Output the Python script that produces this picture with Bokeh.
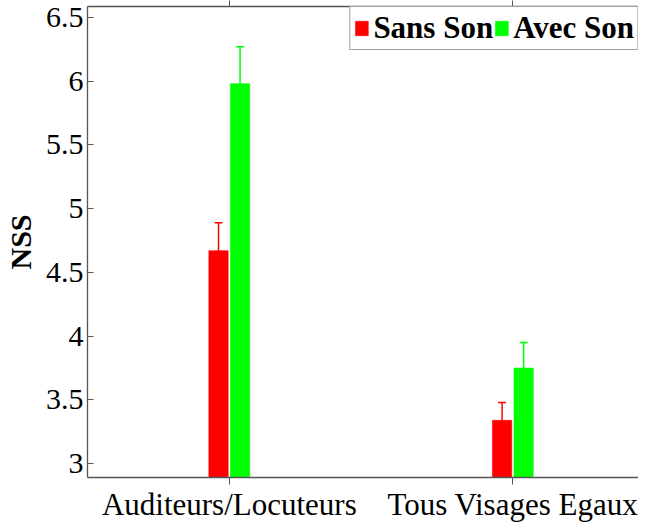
from bokeh.plotting import figure
from bokeh.models import (Range1d, FixedTicker, LinearAxis, Whisker, TeeHead,
                          ColumnDataSource, CustomJSTickFormatter)
from bokeh.embed import file_html
from bokeh.resources import INLINE

categories = ["Auditeurs/Locuteurs", "Tous Visages Egaux"]
series_names = ["Sans Son", "Avec Son"]
sans_son = [4.67, 3.34]
sans_son_err = [0.22, 0.14]
avec_son = [5.98, 3.75]
avec_son_err = [0.29, 0.20]
y_ticks = [3, 3.5, 4, 4.5, 5, 5.5, 6, 6.5]
y_tick_labels = ["3", "3.5", "4", "4.5", "5", "5.5", "6", "6.5"]

colors = ["#ff0000", "#00ff00"]
offset = 0.038
bar_w = 0.068
FONT = "Liberation Serif"
AX = "#555555"

xpos = list(range(len(categories)))

p = figure(width=638, height=524, output_backend="svg", toolbar_location=None,
           x_range=Range1d(-0.5, 1.443), y_range=Range1d(2.892, 6.585),
           min_border_left=0, min_border_right=0, min_border_top=0,
           min_border_bottom=0, background_fill_color="white",
           border_fill_color="white")
p.outline_line_color = None
p.xgrid.visible = False
p.ygrid.visible = False

for name, vals, errs, col, sgn in [(series_names[0], sans_son, sans_son_err, colors[0], -1),
                                   (series_names[1], avec_son, avec_son_err, colors[1], 1)]:
    xs = [x + sgn * offset for x in xpos]
    src = ColumnDataSource(dict(x=xs, top=vals,
                                upper=[v + e for v, e in zip(vals, errs)]))
    w = Whisker(base="x", lower="top", upper="upper", source=src,
                line_color=col, line_width=1.5, lower_head=None,
                upper_head=TeeHead(size=8, line_color=col, line_width=1.5))
    p.add_layout(w)
    p.vbar(x="x", top="top", bottom=2.0, width=bar_w, source=src,
           fill_color=col, line_color=col, line_alpha=0.6, line_width=1,
           legend_label=name)

# y axis
ya = p.yaxis[0]
ya.ticker = FixedTicker(ticks=y_ticks)
ya.formatter = CustomJSTickFormatter(args=dict(yt=y_ticks, ylab=y_tick_labels),
                                     code="const i = yt.indexOf(tick); return i >= 0 ? ylab[i] : '';")
ya.minor_tick_line_color = None
ya.major_tick_in = 6
ya.major_tick_out = 0
ya.major_label_standoff = 4
ya.major_label_text_font = FONT
ya.major_label_text_font_size = "30px"
ya.major_label_text_color = "black"
ya.axis_line_color = AX
ya.axis_line_width = 1.3
ya.major_tick_line_color = AX
ya.axis_label = "NSS"
ya.axis_label_text_font = FONT
ya.axis_label_text_font_size = "30px"
ya.axis_label_text_font_style = "bold"
ya.axis_label_text_color = "black"
ya.axis_label_standoff = 6

# x axis
xa = p.xaxis[0]
xa.ticker = FixedTicker(ticks=xpos)
xa.formatter = CustomJSTickFormatter(args=dict(cats=categories),
                                     code="const l = cats[Math.round(tick)]; return l === undefined ? '' : l;")
xa.minor_tick_line_color = None
xa.major_tick_in = 0
xa.major_tick_out = 7
xa.major_label_standoff = 2
xa.axis_label_standoff = 0
xa.major_label_text_font = FONT
xa.major_label_text_font_size = "31px"
xa.major_label_text_color = "black"
xa.axis_line_color = AX
xa.axis_line_width = 1.3
xa.major_tick_line_color = AX

top = LinearAxis(ticker=FixedTicker(ticks=xpos))
top.major_label_text_font_size = "0px"
top.major_label_text_alpha = 0
top.major_label_standoff = 0
top.major_tick_in = 0
top.major_tick_out = 6
top.minor_tick_line_color = None
top.axis_line_color = AX
top.axis_line_width = 1.3
top.major_tick_line_color = AX
p.add_layout(top, "above")

lg = p.legend[0]
lg.location = "top_right"
lg.orientation = "horizontal"
lg.margin = 0
lg.padding = 3
lg.spacing = 0
lg.label_standoff = 4
lg.glyph_width = 16
lg.glyph_height = 18
lg.label_text_font = FONT
lg.label_text_font_size = "31px"
lg.label_text_font_style = "bold"
lg.label_text_color = "black"
lg.border_line_color = "#444444"
lg.border_line_width = 1.3
lg.background_fill_alpha = 1

open("out.html", "w").write(file_html(p, INLINE))
